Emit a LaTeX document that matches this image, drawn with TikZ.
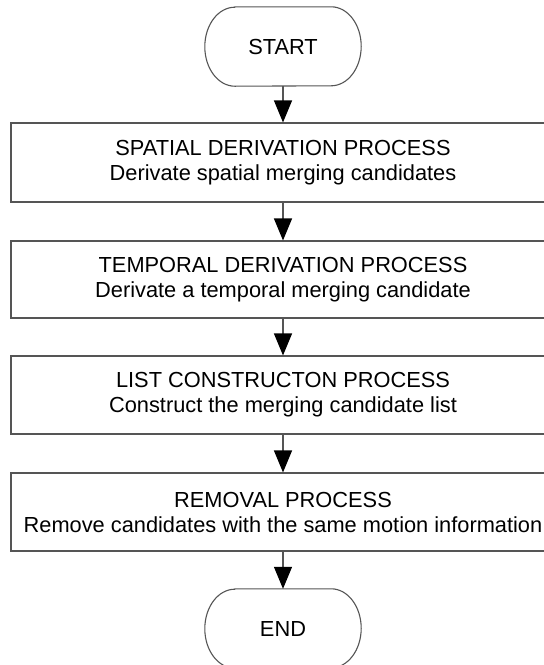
\documentclass[tikz,border=0pt]{standalone}
\usepackage{fontspec}
\setmainfont{Liberation Sans}
\usetikzlibrary{arrows.meta}
\definecolor{edgegray}{HTML}{555555}
\tikzset{
  x=1pt, y=-1pt,
  term/.style={rectangle, minimum width=156pt, minimum height=79pt, inner sep=0pt,
    font=\fontsize{21.8}{25}\selectfont},
  termline/.style={draw=edgegray, line width=1.1pt},
  procbox/.style={draw=edgegray, line width=1.1pt, rectangle, minimum width=544pt, inner sep=0pt,
    align=center, font=\fontsize{21.8}{25}\selectfont},
  flow/.style={draw=edgegray, line width=1.1pt, -{Triangle[width=18pt,length=22pt,color=black]}}
}
\newcommand{\termoutline}[1]{%
  \draw[termline] ([xshift=30pt]#1.north west) -- ([xshift=-30pt]#1.north east)
    arc[start angle=90,end angle=-90,x radius=30pt,y radius=39.5pt]
    -- ([xshift=30pt]#1.south west)
    arc[start angle=270,end angle=90,x radius=30pt,y radius=39.5pt] -- cycle;}
\begin{document}
\begin{tikzpicture}
\useasboundingbox[fill=white] (0,0) rectangle (544,665);
\node[term] (start) at (283,46.5) {START};
\termoutline{start}
\node[procbox, minimum height=79pt] (b1) at (283,162.5) {SPATIAL DERIVATION PROCESS\\Derivate spatial merging candidates};
\node[procbox, minimum height=77pt] (b2) at (283,279.5) {TEMPORAL DERIVATION PROCESS\\Derivate a temporal merging candidate};
\node[procbox, minimum height=78pt] (b3) at (283,395) {LIST CONSTRUCTON PROCESS\\Construct the merging candidate list};
\node[procbox, minimum height=78pt] (b4) at (283,512) {REMOVAL PROCESS\\Remove candidates with the same motion information};
\node[term] (end) at (283,628.5) {END};
\termoutline{end}
\draw[flow] (start) -- (b1);
\draw[flow] (b1) -- (b2);
\draw[flow] (b2) -- (b3);
\draw[flow] (b3) -- (b4);
\draw[flow] (b4) -- (end);
\end{tikzpicture}
\end{document}
